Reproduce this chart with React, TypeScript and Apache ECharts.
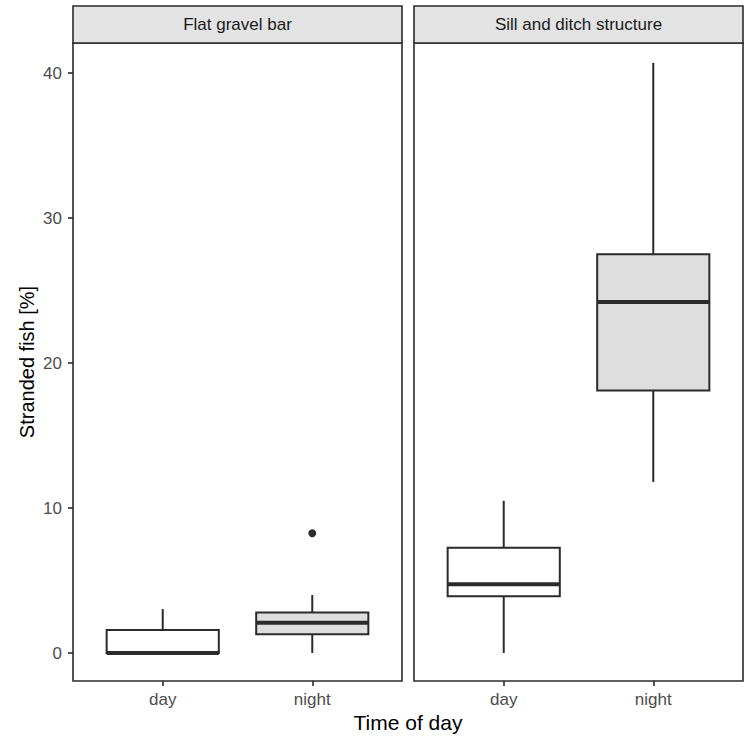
import React, { useEffect, useRef } from "react";
import * as echarts from "echarts";

// Facet titles and x categories
const facets = ["Flat gravel bar", "Sill and ditch structure"];
const categories = ["day", "night"];

// Five-number summaries per category: [lower whisker, Q1, median, Q3, upper whisker]
const gravelBox = [
  [0, 0, 0, 1.59, 3.03],
  [0, 1.29, 2.09, 2.8, 4.0],
];
const sillBox = [
  [0, 3.91, 4.74, 7.26, 10.5],
  [11.8, 18.1, 24.2, 27.5, 40.7],
];

// Outlying observations: [category, value]
const gravelOutliers: [string, number][] = [["night", 8.26]];
const sillOutliers: [string, number][] = [];

const yTicks = [0, 10, 20, 30, 40];
const boxFills = ["#ffffff", "#dedede"];

const INK = "#2b2b2b";
const BOX_WIDTH = 0.75;
const FONT = "'Liberation Sans', Arial, sans-serif";

const toBoxData = (stats: number[][]) => stats.map((s, i) => [i + 1, ...s]);
const toPointData = (pts: [string, number][]) =>
  pts.map(([c, v]) => [categories.indexOf(c) + 1, v]);

const renderBox = (params: any, api: any) => {
  const x = api.value(0);
  const lo = api.value(1);
  const q1 = api.value(2);
  const med = api.value(3);
  const q3 = api.value(4);
  const hi = api.value(5);
  const cx = api.coord([x, med])[0];
  const yLo = api.coord([x, lo])[1];
  const yQ1 = api.coord([x, q1])[1];
  const yMed = api.coord([x, med])[1];
  const yQ3 = api.coord([x, q3])[1];
  const yHi = api.coord([x, hi])[1];
  const half = api.size([BOX_WIDTH, 0])[0] / 2;
  const lineStyle = { stroke: INK, lineWidth: 2 };
  return {
    type: "group",
    children: [
      { type: "line", shape: { x1: cx, y1: yHi, x2: cx, y2: yQ3 }, style: lineStyle },
      { type: "line", shape: { x1: cx, y1: yQ1, x2: cx, y2: yLo }, style: lineStyle },
      {
        type: "rect",
        shape: { x: cx - half, y: yQ3, width: half * 2, height: yQ1 - yQ3 },
        style: { fill: boxFills[params.dataIndex], stroke: INK, lineWidth: 2 },
      },
      {
        type: "line",
        shape: { x1: cx - half, y1: yMed, x2: cx + half, y2: yMed },
        style: { stroke: INK, lineWidth: 4 },
      },
    ],
  };
};

const panelLeft = [73, 414];
const panelWidth = 329;
const panelTop = 43;
const panelHeight = 638;
const stripTop = 6;

export default function App() {
  const ref = useRef<HTMLDivElement>(null);

  useEffect(() => {
    if (!ref.current) return;
    const chart = echarts.init(ref.current, null, { renderer: "svg" });

    const grids = panelLeft.map((left) => ({
      left,
      top: panelTop,
      width: panelWidth,
      height: panelHeight,
      show: true,
      borderColor: INK,
      borderWidth: 1.6,
      backgroundColor: "#ffffff",
      containLabel: false,
    }));

    const xAxes = panelLeft.map((_, i) => ({
      type: "value",
      gridIndex: i,
      min: 0.4,
      max: 2.6,
      axisLine: { show: false, onZero: false },
      splitLine: { show: false },
      axisTick: {
        show: true,
        length: 5,
        customValues: [1, 2],
        lineStyle: { color: INK, width: 1.6 },
      },
      axisLabel: {
        customValues: [1, 2],
        formatter: (v: number) => categories[Math.round(v) - 1],
        color: "#4d4d4d",
        fontSize: 17,
        fontFamily: FONT,
        margin: 10,
      },
    }));

    const yAxes = panelLeft.map((_, i) => ({
      type: "value",
      gridIndex: i,
      min: -1.93,
      max: 42.07,
      axisLine: { show: false, onZero: false },
      splitLine: { show: false },
      axisTick: {
        show: i === 0,
        length: 5,
        customValues: yTicks,
        lineStyle: { color: INK, width: 1.6 },
      },
      axisLabel: {
        show: i === 0,
        customValues: yTicks,
        color: "#4d4d4d",
        fontSize: 17,
        fontFamily: FONT,
        margin: 11,
      },
      name: i === 0 ? "Stranded fish [%]" : "",
      nameLocation: "middle",
      nameRotate: 90,
      nameGap: 36,
      nameTextStyle: { color: "#000000", fontSize: 20, fontFamily: FONT },
    }));

    const boxSets = [gravelBox, sillBox];
    const outlierSets = [gravelOutliers, sillOutliers];

    const series: any[] = [];
    boxSets.forEach((stats, i) => {
      series.push({
        type: "custom",
        xAxisIndex: i,
        yAxisIndex: i,
        renderItem: renderBox,
        encode: { x: 0, y: [1, 2, 3, 4, 5] },
        data: toBoxData(stats),
        silent: true,
      });
      series.push({
        type: "scatter",
        xAxisIndex: i,
        yAxisIndex: i,
        symbol: "circle",
        symbolSize: 8,
        itemStyle: { color: INK, opacity: 1 },
        data: toPointData(outlierSets[i]),
        silent: true,
      });
    });

    const strips = facets.flatMap((label, i) => [
      {
        type: "rect",
        shape: {
          x: panelLeft[i],
          y: stripTop,
          width: panelWidth,
          height: panelTop - stripTop,
        },
        style: { fill: "#e3e3e3", stroke: INK, lineWidth: 1.6 },
      },
      {
        type: "text",
        x: panelLeft[i] + panelWidth / 2,
        y: (stripTop + panelTop) / 2,
        style: {
          text: label,
          fill: "#1a1a1a",
          fontSize: 17,
          fontFamily: FONT,
          align: "center",
          verticalAlign: "middle",
        },
      },
    ]);

    chart.setOption({
      animation: false,
      backgroundColor: "#ffffff",
      grid: grids,
      xAxis: xAxes,
      yAxis: yAxes,
      series,
      graphic: [
        ...strips,
        {
          type: "text",
          x: (panelLeft[0] + panelLeft[1] + panelWidth) / 2,
          y: 722,
          style: {
            text: "Time of day",
            fill: "#000000",
            fontSize: 21,
            fontFamily: FONT,
            align: "center",
            verticalAlign: "middle",
          },
        },
      ],
    });

    return () => chart.dispose();
  }, []);

  return (
    <div
      ref={ref}
      style={{ position: "fixed", left: 0, top: 0, width: 744, height: 742 }}
    />
  );
}
